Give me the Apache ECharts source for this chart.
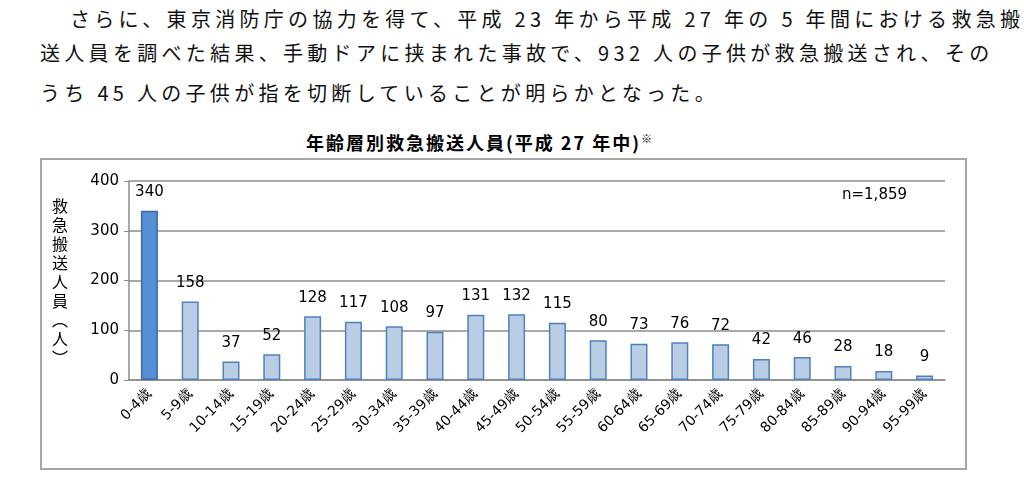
<!DOCTYPE html>
<html lang="ja">
<head>
<meta charset="UTF-8">
<script src="https://cdn.jsdelivr.net/npm/echarts@6/dist/echarts.min.js"></script>
<style>
body { margin:0; width:1024px; height:493px; background:#fff; position:relative; overflow:hidden;
       font-family:"Noto Sans CJK JP", sans-serif; }
.p { position:absolute; left:40px; font-size:20px; letter-spacing:4.3px; color:#111; white-space:nowrap; }
#title { position:absolute; left:0; width:960px; top:129px; text-align:center; font-size:18px; font-weight:bold; letter-spacing:2px; }
#main { position:absolute; left:40px; top:158px; width:923px; height:308px; border:2px solid #a6a6a6; }
</style>
</head>
<body>
<div class="p" style="top:4px;left:70px">さらに、東京消防庁の協力を得て、平成 23 年から平成 27 年の 5 年間における救急搬</div>
<div class="p" style="top:38px">送人員を調べた結果、手動ドアに挟まれた事故で、932 人の子供が救急搬送され、その</div>
<div class="p" style="top:78px">うち 45 人の子供が指を切断していることが明らかとなった。</div>
<div id="title">年齢層別救急搬送人員(平成 27 年中)<sup style="font-size:11px">※</sup></div>
<div id="main"></div>
<script>
var ages = ['0-4歳','5-9歳','10-14歳','15-19歳','20-24歳','25-29歳','30-34歳','35-39歳','40-44歳','45-49歳',
            '50-54歳','55-59歳','60-64歳','65-69歳','70-74歳','75-79歳','80-84歳','85-89歳','90-94歳','95-99歳'];
var counts = [340,158,37,52,128,117,108,97,131,132,115,80,73,76,72,42,46,28,18,9];
var yTicks = [0,100,200,300,400];

var chart = echarts.init(document.getElementById('main'));
chart.setOption({
  animation: false,
  textStyle: { fontFamily: '"DejaVu Sans", sans-serif' },
  grid: { left: 87, right: 20, top: 21, bottom: 88 },
  graphic: [
    { type: 'text', left: 800, top: 28, style: { text: 'n=1,859', font: '15px "DejaVu Sans"', fill: '#000' } },
    { type: 'text', left: 10, top: 36, style: { text: '救\n急\n搬\n送\n人\n員\n︵\n人\n︶', font: '16px "Noto Sans CJK JP"', lineHeight: 19, fill: '#000' } }
  ],
  xAxis: {
    type: 'category', data: ages,
    axisLine: { lineStyle: { color: '#8c8c8c', width: 1.5 } },
    axisTick: { lineStyle: { color: '#8c8c8c' }, length: 5 },
    axisLabel: { rotate: 45, color: '#000', fontSize: 14, interval: 0, margin: 12 }
  },
  yAxis: {
    type: 'value', min: yTicks[0], max: yTicks[yTicks.length - 1], interval: 100,
    axisLine: { show: true, lineStyle: { color: '#8c8c8c', width: 1.5 } },
    axisTick: { show: true, length: 5, lineStyle: { color: '#8c8c8c' } },
    axisLabel: { color: '#000', fontSize: 15, margin: 10 },
    splitLine: { lineStyle: { color: '#8c8c8c', width: 1.5 } }
  },
  series: [{
    type: 'bar', barWidth: 17,
    data: counts.map(function (v, i) {
      return i === 0
        ? { value: v, itemStyle: { color: '#558ed5', borderColor: '#3a6aa8', borderWidth: 1.5 } }
        : { value: v, itemStyle: { color: '#b9cde5', borderColor: '#4f81bd', borderWidth: 1.5 } };
    }),
    label: { show: true, position: 'top', distance: 11, color: '#000', fontSize: 15 }
  }]
});
</script>
</body>
</html>
